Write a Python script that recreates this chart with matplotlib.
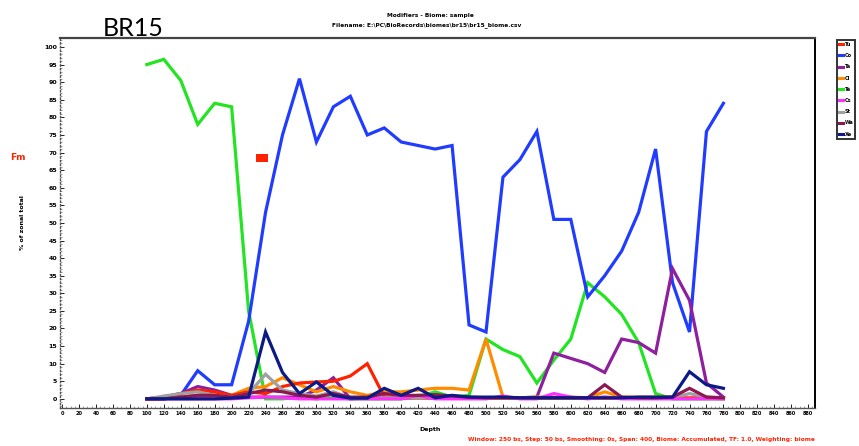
import matplotlib
matplotlib.use("Agg")
import matplotlib.pyplot as plt
from matplotlib.lines import Line2D
from matplotlib.ticker import MultipleLocator

# ---------------- data ----------------
depth = [100, 120, 140, 160, 180, 200, 220, 240, 260, 280, 300, 320, 340, 360, 380,
         400, 420, 440, 460, 480, 500, 520, 540, 560, 580, 600, 620, 640, 660, 680,
         700, 720, 740, 760, 780]

red = [0, 0.5, 1.5, 2.5, 2, 1, 2, 1.5, 3.5, 4.5, 4.8, 5, 6.5, 10, 0.6,
       0.3, 0.3, 0.2, 0.2, 0.2, 0.2, 0.2, 0.2, 0.2, 0.2, 0.2, 0.2, 0.2, 0.2, 0.2,
       0.2, 0.2, 0.2, 0.2, 0.2]
blue = [0, 0, 1, 8, 4, 4, 22, 53, 75, 91, 73, 83, 86, 75, 77,
        73, 72, 71, 72, 21, 19, 63, 68, 76, 51, 51, 29, 35, 42, 53,
        71, 33, 19, 76, 84]
purple = [0, 0.5, 1.5, 3.5, 2.5, 1, 0.5, 0.5, 0.5, 0.5, 2.5, 6, 0, 0.3, 0.3,
          0.3, 0.3, 0.3, 0.3, 0.3, 0.3, 0.3, 0.3, 0.5, 13, 11.5, 10, 7.5, 17, 16,
          13, 37, 28, 4.5, 0.5]
orange = [0, 0, 0.5, 1, 1, 1, 3, 3.5, 6, 4, 2, 3.5, 2, 1, 2,
          2, 2.5, 3, 3, 2.5, 17, 0.5, 0.3, 0.5, 0.5, 0.5, 0.3, 2, 0.5, 0.5,
          0.5, 0.5, 0.3, 0.5, 0]
green = [95, 96.5, 90.5, 78, 84, 83, 25, 0, 0, 0.5, 0, 0.5, 0, 0, 0,
         0, 0.5, 2, 0.5, 1, 17, 14, 12, 4.5, 11, 17, 33, 29, 24, 16,
         1.5, 0, 0, 0, 0]
magenta = [0, 0, 0, 0, 0, 0, 0.3, 0.5, 0.3, 0, 0, 0, 0, 0, 0,
           0, 1, 0, 0, 0, 0, 0.8, 0, 0, 1.5, 0.5, 0, 0.5, 0, 0,
           0, 0, 0, 0, 0]
gray = [0, 0.8, 1.5, 2, 1, 0.5, 1.5, 7, 2.5, 1.5, 0.8, 2, 0.3, 0.3, 0.3,
        0.3, 0.3, 0.3, 0.3, 0.3, 0.3, 0.3, 0.3, 0.3, 0.3, 0.3, 0.3, 0.5, 0.3, 0.3,
        0.3, 0.3, 1.5, 0.5, 0.3]
maroon = [0, 0, 0.5, 1, 1, 0.5, 1.5, 2.5, 2, 1, 0.5, 1.5, 0.5, 0.5, 1.5,
          1, 1, 1.2, 0.8, 0.5, 0.3, 0.3, 0.3, 0.3, 0.3, 0.3, 0.3, 4, 0.5, 0.3,
          0.3, 0.5, 3, 0.5, 0.3]
navy = [0, 0, 0, 0, 0, 0.2, 0.5, 19, 7.5, 1.5, 4.8, 1, 0.2, 0.2, 3,
        1, 3, 0.3, 1, 0.5, 0.5, 0.5, 0.3, 0.3, 0.3, 0.3, 0.3, 0.3, 0.3, 0.5,
        0.5, 0.5, 7.7, 4, 3]

series_names = ["Tu", "Co", "Ta", "Cl", "Te", "Cs", "St", "Wa", "Xe"]
series_values = [red, blue, purple, orange, green, magenta, gray, maroon, navy]
series_colors = ["#ff2200", "#1f3cff", "#8e1f9e", "#ff8c00", "#22e422",
                 "#ff30ff", "#a0a0a0", "#8b1850", "#0c1a86"]

x_ticks = list(range(0, 881, 20))
y_ticks = list(range(0, 101, 5))

# ---------------- figure ----------------
fig = plt.figure(figsize=(8.59, 4.46), dpi=100)
ax = fig.add_axes([60 / 859, 1 - 408 / 446, 755 / 859, 370.5 / 446])

draw_order = [4, 1, 2, 3, 0, 6, 5, 7, 8]
for i in draw_order:
    ax.plot(depth, series_values[i], color=series_colors[i], lw=2.3,
            solid_joinstyle="miter", zorder=2 + draw_order.index(i))

ax.set_xlim(-2.4, 888)
ax.set_ylim(-2.6, 102.7)
ax.set_xticks(x_ticks)
ax.set_xticklabels([str(v) for v in x_ticks], fontsize=3.6, fontweight="bold")
ax.set_yticks(y_ticks)
ax.set_yticklabels([str(v) for v in y_ticks], fontsize=4.5, fontweight="bold")
ax.xaxis.set_minor_locator(MultipleLocator(5))
ax.yaxis.set_minor_locator(MultipleLocator(1))
ax.tick_params(axis="both", which="major", direction="in", length=3, width=0.6,
               pad=2, colors="black")
ax.tick_params(axis="both", which="minor", direction="in", length=1.5, width=0.5,
               color="#777777")

ax.spines["left"].set_linestyle(":")
ax.spines["left"].set_color("#555555")
ax.spines["left"].set_linewidth(1.0)
ax.spines["top"].set_color("#444444")
ax.spines["top"].set_linewidth(1.6)
ax.spines["right"].set_linewidth(1.4)
ax.spines["bottom"].set_color("#555555")
ax.spines["bottom"].set_linewidth(1.0)

ax.set_xlabel("Depth", fontsize=4.5, fontweight="bold", labelpad=2)
ax.xaxis.set_label_coords(0.49, -0.05)
ax.set_ylabel("% of zonal total", fontsize=4.5, fontweight="bold", labelpad=14)

# titles / annotations
fig.text(103 / 859, 1 - 28 / 446, "BR15", fontsize=18, family="Lato",
         ha="left", va="center")
fig.text(430 / 859, 1 - 16 / 446, "Modifiers - Biome: sample", fontsize=4.2,
         fontweight="bold", ha="center", va="center")
fig.text(427 / 859, 1 - 25 / 446, "Filename: E:\\PC\\BioRecords\\biomes\\br15\\br15_biome.csv",
         fontsize=4.2, fontweight="bold", ha="center", va="center")
fig.text(18 / 859, 1 - 158 / 446, "Fm", fontsize=6.5, fontweight="bold",
         color="#ff2200", ha="center", va="center")
fig.text(262 / 859, 1 - 158 / 446, "Fm", fontsize=4, fontweight="bold",
         color="#ff2200", ha="center", va="center",
         bbox=dict(boxstyle="square,pad=0.3", fc="#ff2200", ec="none"))
fig.text(815 / 859, 1 - 440 / 446,
         "Window: 250 bs, Step: 50 bs, Smoothing: 0s, Span: 400, Biome: Accumulated, TF: 1.0, Weighting: biome",
         fontsize=4.2, fontweight="bold", color="#ff2200", ha="right", va="center")

# legend
handles = [Line2D([0], [0], color=c, lw=2.2) for c in series_colors]
leg = fig.legend(handles, series_names, loc="upper left",
                 bbox_to_anchor=(837 / 859, 1 - 40 / 446), borderaxespad=0,
                 fontsize=3.6, handlelength=0.9, handletextpad=0.25,
                 labelspacing=1.25, borderpad=0.35, frameon=True, fancybox=False)
leg.get_frame().set_edgecolor("black")
leg.get_frame().set_linewidth(1.4)
for t in leg.get_texts():
    t.set_fontweight("bold")

fig.savefig("out.png", dpi=100)
